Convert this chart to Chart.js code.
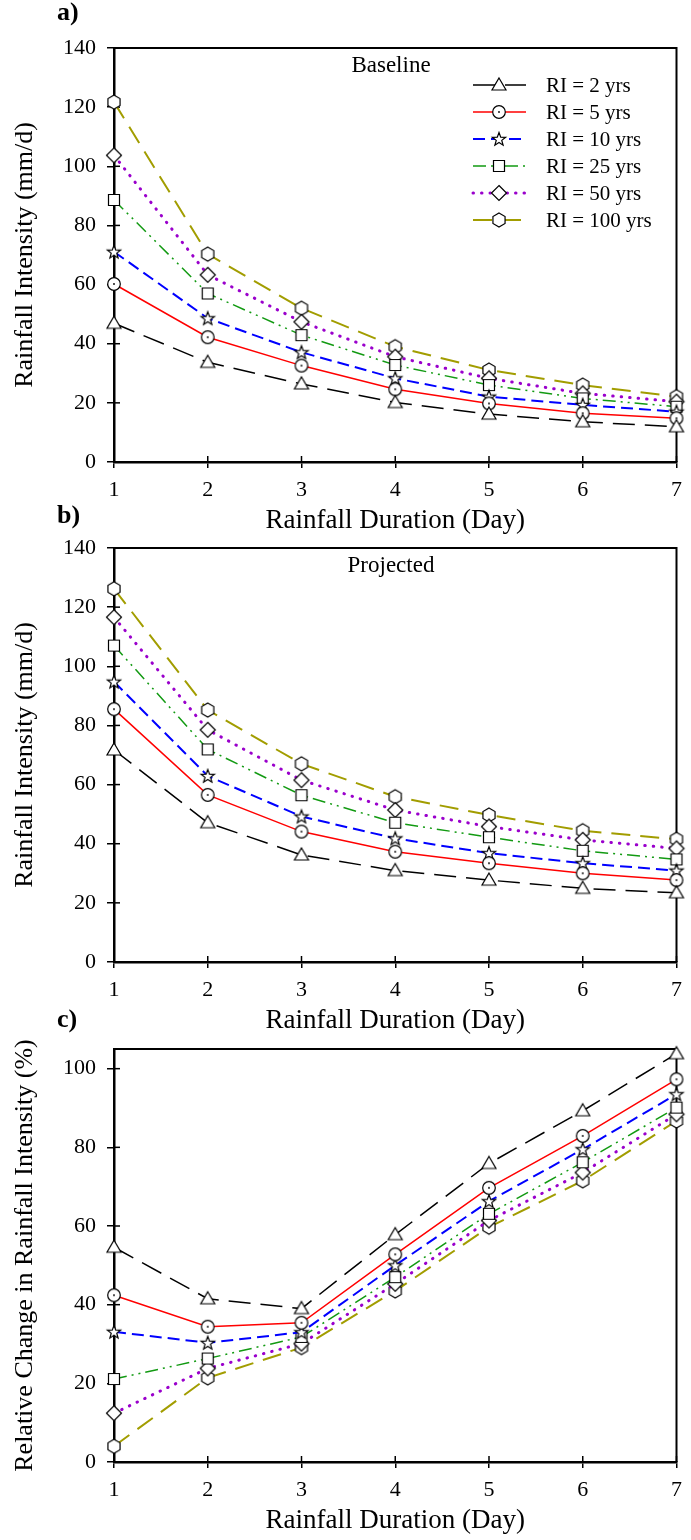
<!DOCTYPE html>
<html><head><meta charset="utf-8">
<script src="https://cdn.jsdelivr.net/npm/chart.js@4.4.0/dist/chart.umd.min.js"></script>
<style>
body{margin:0;background:#fff;width:691px;height:1540px;position:relative;overflow:hidden}
canvas{position:absolute;left:0}
</style></head><body>
<canvas id="ca" width="691" height="540" style="top:0px"></canvas>
<canvas id="cb" width="691" height="540" style="top:500px"></canvas>
<canvas id="cc" width="691" height="540" style="top:1000px"></canvas>
<script>
// ---------- data ----------
const durations = [1, 2, 3, 4, 5, 6, 7];
const seriesNames = ['RI = 2 yrs', 'RI = 5 yrs', 'RI = 10 yrs', 'RI = 25 yrs', 'RI = 50 yrs', 'RI = 100 yrs'];

const base2   = [46.9, 33.7, 26.4, 20.1, 16.2, 13.6, 11.9];
const base5   = [60.2, 42.2, 32.6, 24.6, 19.8, 16.5, 14.8];
const base10  = [71.1, 48.6, 37.1, 28.3, 22.1, 19.3, 17.0];
const base25  = [88.6, 57.0, 42.9, 32.8, 26.0, 21.5, 18.7];
const base50  = [103.7, 63.3, 47.4, 35.6, 28.3, 23.2, 20.4];
const base100 = [121.7, 70.3, 52.0, 39.0, 31.1, 26.0, 22.1];

const proj2   = [71.7, 47.1, 36.2, 30.9, 27.7, 24.9, 23.4];
const proj5   = [85.5, 56.5, 44.1, 37.3, 33.4, 30.0, 27.7];
const proj10  = [94.8, 62.9, 49.2, 41.8, 36.8, 33.4, 30.9];
const proj25  = [107.0, 71.9, 56.4, 47.1, 42.2, 37.6, 34.7];
const proj50  = [116.6, 78.5, 61.5, 51.4, 45.8, 41.3, 38.4];
const proj100 = [126.2, 85.2, 67.0, 55.9, 49.7, 44.4, 41.5];

const chg2   = [54.6, 41.5, 39.0, 57.8, 75.9, 89.3, 103.8];
const chg5   = [42.4, 34.4, 35.4, 52.8, 69.7, 82.9, 97.3];
const chg10  = [33.1, 30.3, 33.0, 50.0, 66.3, 79.5, 93.5];
const chg25  = [21.1, 26.3, 31.8, 47.0, 63.1, 76.2, 90.1];
const chg50  = [12.4, 23.8, 30.1, 45.3, 61.4, 73.6, 88.4];
const chg100 = [4.0, 21.4, 29.1, 43.5, 59.7, 71.5, 86.7];

const yTicksIntensity = [0, 20, 40, 60, 80, 100, 120, 140];
const yTicksChange = [0, 20, 40, 60, 80, 100];

// ---------- styles ----------
const FONT = "'Liberation Serif', 'Times New Roman', serif";

function marker(type) {
  const c = document.createElement('canvas');
  c.width = 18; c.height = 18;
  const g = c.getContext('2d');
  const cx = 9, cy = 9;
  g.fillStyle = '#fff'; g.strokeStyle = '#000'; g.lineWidth = 1.2;
  g.beginPath();
  if (type === 'triangle') {
    g.moveTo(cx, cy - 7); g.lineTo(cx + 7, cy + 5); g.lineTo(cx - 7, cy + 5); g.closePath();
  } else if (type === 'circle') {
    g.arc(cx, cy, 6.3, 0, Math.PI * 2);
  } else if (type === 'star') {
    for (let i = 0; i < 10; i++) {
      const r = i % 2 ? 2.9 : 7;
      const a = -Math.PI / 2 + i * Math.PI / 5;
      const px = cx + r * Math.cos(a), py = cy + 0.5 + r * Math.sin(a);
      i ? g.lineTo(px, py) : g.moveTo(px, py);
    }
    g.closePath();
  } else if (type === 'square') {
    g.rect(cx - 5.5, cy - 5.5, 11, 11);
  } else if (type === 'diamond') {
    g.moveTo(cx, cy - 7.5); g.lineTo(cx + 7.5, cy); g.lineTo(cx, cy + 7.5); g.lineTo(cx - 7.5, cy); g.closePath();
  } else if (type === 'hexagon') {
    for (let i = 0; i < 6; i++) {
      const a = -Math.PI / 2 + i * Math.PI / 3;
      const px = cx + 7 * Math.cos(a), py = cy + 7 * Math.sin(a);
      i ? g.lineTo(px, py) : g.moveTo(px, py);
    }
    g.closePath();
  }
  g.fill(); g.stroke();
  if (type === 'circle') {
    g.beginPath(); g.fillStyle = '#000'; g.arc(cx, cy, 0.9, 0, Math.PI * 2); g.fill();
  }
  return c;
}

const seriesStyles = [
  { color: '#000000', width: 1.5, dash: [22, 10], cap: 'butt', marker: marker('triangle') },
  { color: '#ff0000', width: 1.5, dash: [], cap: 'butt', marker: marker('circle') },
  { color: '#0000ff', width: 2, dash: [12, 6], cap: 'butt', marker: marker('star') },
  { color: '#129a12', width: 1.5, dash: [13, 5, 2, 5, 2, 5], cap: 'butt', marker: marker('square') },
  { color: '#9a00cc', width: 3, dash: [0.5, 8], cap: 'round', marker: marker('diamond') },
  { color: '#a29d00', width: 2, dash: [19, 10], cap: 'butt', marker: marker('hexagon') }
];

function makeDatasets(arrs) {
  return arrs.map((vals, i) => {
    const s = seriesStyles[i];
    return {
      label: seriesNames[i],
      data: durations.map((d, k) => ({ x: d, y: vals[k] })),
      borderColor: s.color,
      borderWidth: s.width,
      borderDash: s.dash,
      borderCapStyle: s.cap,
      pointStyle: s.marker,
      pointRadius: 7,
      pointHoverRadius: 7,
      backgroundColor: '#fff',
      tension: 0,
      clip: false,
      fill: false
    };
  });
}

// ---------- plugins ----------
const frame = {
  id: 'frame',
  beforeDatasetsDraw(chart) {
    const { ctx, chartArea: a, scales: { x, y } } = chart;
    ctx.save();
    ctx.strokeStyle = '#000';
    ctx.lineWidth = 2;
    ctx.beginPath();
    ctx.moveTo(a.left, a.top); ctx.lineTo(a.right, a.top); ctx.lineTo(a.right, a.bottom);
    ctx.stroke();
    ctx.lineWidth = 1.5;
    y.ticks.forEach(t => {
      const py = y.getPixelForValue(t.value);
      ctx.beginPath(); ctx.moveTo(a.left, py); ctx.lineTo(a.left + 6, py); ctx.stroke();
    });
    x.ticks.forEach(t => {
      const px = x.getPixelForValue(t.value);
      ctx.beginPath(); ctx.moveTo(px, a.bottom); ctx.lineTo(px, a.bottom - 6); ctx.stroke();
    });
    ctx.restore();
  },
  afterDraw(chart, args, o) {
    const ctx = chart.ctx;
    ctx.save();
    ctx.fillStyle = '#000';
    ctx.textBaseline = 'middle';
    ctx.textAlign = 'left';
    ctx.font = 'bold 26px ' + FONT;
    ctx.fillText(o.letter, 57, o.letterY);
    if (o.inner) {
      ctx.textAlign = 'center';
      ctx.font = '23px ' + FONT;
      ctx.fillText(o.inner, 391, chart.chartArea.top + 18);
    }
    if (o.legend) {
      ctx.textAlign = 'left';
      ctx.font = '21px ' + FONT;
      chart.data.datasets.forEach((ds, i) => {
        const ly = 85 + i * 27;
        ctx.save();
        ctx.strokeStyle = ds.borderColor;
        ctx.lineWidth = ds.borderWidth;
        ctx.lineCap = ds.borderCapStyle;
        ctx.setLineDash(ds.borderDash);
        ctx.beginPath(); ctx.moveTo(473, ly); ctx.lineTo(526, ly); ctx.stroke();
        ctx.restore();
        const m = ds.pointStyle;
        ctx.drawImage(m, 499 - m.width / 2, ly - m.height / 2);
        ctx.fillText(ds.label, 546, ly + 1);
      });
    }
    ctx.restore();
  }
};

function buildChart(id, arrs, yMax, tickVals, yTitle, topPad, letter, letterY, inner, legend) {
  return new Chart(document.getElementById(id), {
    type: 'line',
    data: { datasets: makeDatasets(arrs) },
    options: {
      responsive: false,
      animation: false,
      events: [],
      layout: { padding: { top: topPad, right: 5, left: 0, bottom: 0 } },
      plugins: {
        legend: { display: false },
        tooltip: { enabled: false },
        frame: { letter, letterY, inner, legend }
      },
      scales: {
        x: {
          type: 'linear', min: 1, max: 7,
          ticks: { stepSize: 1, color: '#000', font: { family: FONT, size: 22 }, padding: 9, maxRotation: 0 },
          grid: { drawOnChartArea: false, drawTicks: true, tickLength: 6, color: '#000', lineWidth: 1.5 },
          border: { display: true, color: '#000', width: 2.5 },
          title: { display: true, text: 'Rainfall Duration (Day)', color: '#000', font: { family: FONT, size: 27 }, padding: { top: 0, bottom: 3 } },
          afterFit: s => { s.height = 78; }
        },
        y: {
          min: 0, max: yMax,
          afterBuildTicks: s => { s.ticks = tickVals.map(v => ({ value: v })); },
          ticks: { color: '#000', font: { family: FONT, size: 22 }, padding: 11 },
          grid: { drawOnChartArea: false, drawTicks: true, tickLength: 7, color: '#000', lineWidth: 1.5 },
          border: { display: true, color: '#000', width: 2.5 },
          title: { display: true, text: yTitle, color: '#000', font: { family: FONT, size: 26 }, padding: { top: 10, bottom: 0 } },
          afterFit: s => { s.width = 114; }
        }
      }
    },
    plugins: [frame]
  });
}

buildChart('ca', [base2, base5, base10, base25, base50, base100], 140, yTicksIntensity,
  'Rainfall Intensity (mm/d)', 48, 'a)', 13, 'Baseline', true);
buildChart('cb', [proj2, proj5, proj10, proj25, proj50, proj100], 140, yTicksIntensity,
  'Rainfall Intensity (mm/d)', 48, 'b)', 16, 'Projected', false);
buildChart('cc', [chg2, chg5, chg10, chg25, chg50, chg100], 105, yTicksChange,
  'Relative Change in Rainfall Intensity (%)', 49, 'c)', 20, null, false);
</script>
</body></html>
